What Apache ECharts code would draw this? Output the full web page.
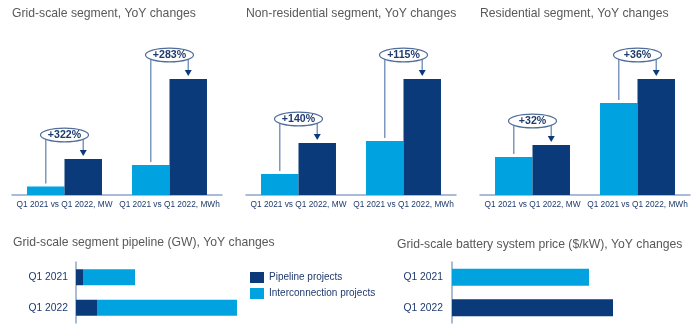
<!DOCTYPE html>
<html><head><meta charset="utf-8">
<script src="https://cdn.jsdelivr.net/npm/echarts@6/dist/echarts.min.js"></script>
<style>html,body{margin:0;padding:0;background:#fff}#c{width:696px;height:326px}</style>
</head><body><div id="c"></div>
<script>
// ---- data ----
const barCategories = ['Q1 2021 vs Q1 2022, MW', 'Q1 2021 vs Q1 2022, MWh'];
// relative bar heights (each panel on its own scale)
const gridQ1_2021 = [8.5, 30];
const gridQ1_2022 = [36, 116];
const gridChange = ['+322%', '+283%'];
const nonresQ1_2021 = [21, 54];
const nonresQ1_2022 = [52, 116];
const nonresChange = ['+140%', '+115%'];
const resQ1_2021 = [38, 92];
const resQ1_2022 = [50, 116];
const resChange = ['+32%', '+36%'];

const quarters = ['Q1 2021', 'Q1 2022'];
const pipelineProjects = [7, 21];
const interconnectionProjects = [52, 140];
const batteryPrice = [137, 161];

const titles = ['Grid-scale segment, YoY changes', 'Non-residential segment, YoY changes', 'Residential segment, YoY changes',
  'Grid-scale segment pipeline (GW), YoY changes', 'Grid-scale battery system price ($/kW), YoY changes'];

// ---- styling ----
const LIGHT = '#00a3e0', DARK = '#0b3a7a', AXIS = '#8ea6c8', LABEL = '#1f3a6e', TITLE = '#595959';
const FONT = '"Liberation Sans", Arial, sans-serif';
const GAP = 0.286;

function makeAnnot(changes) {
  return function (params, api) {
    const idx = api.value(0), lo = api.value(1), hi = api.value(2);
    const base = api.coord([idx, 0]);
    const band = api.size([1, 0])[0];
    const bw = band * (1 - GAP) / 2;
    const lx = base[0] - bw / 2, dx = base[0] + bw / 2;
    const ly = api.coord([idx, lo])[1], dy = api.coord([idx, hi])[1];
    const ey = dy - 24, cx = base[0];
    const ls = { stroke: '#7f98bf', lineWidth: 1.5 };
    return {
      type: 'group', children: [
        { type: 'line', shape: { x1: lx, y1: ly - 3, x2: lx, y2: ey }, style: ls },
        { type: 'line', shape: { x1: dx, y1: ey, x2: dx, y2: dy - 8 }, style: ls },
        { type: 'polygon', shape: { points: [[dx - 3.5, dy - 9], [dx + 3.5, dy - 9], [dx, dy - 3]] }, style: { fill: DARK } },
        { type: 'ellipse', shape: { cx: cx, cy: ey, rx: 24, ry: 6.8 }, style: { fill: '#fff', stroke: '#4f6d99', lineWidth: 1.2 } },
        { type: 'text', style: { x: cx, y: ey + 0.5, text: changes[params.dataIndex], fill: LABEL, font: 'bold 10.6px ' + FONT, align: 'center', verticalAlign: 'middle' } }
      ]
    };
  };
}

const panels = [
  { left: 12, a: gridQ1_2021, b: gridQ1_2022, c: gridChange },
  { left: 246, a: nonresQ1_2021, b: nonresQ1_2022, c: nonresChange },
  { left: 480, a: resQ1_2021, b: resQ1_2022, c: resChange }
];

const grid = [], xAxis = [], yAxis = [], series = [];
panels.forEach((p, i) => {
  grid.push({ left: p.left, top: 65, width: 210, height: 130 });
  xAxis.push({
    type: 'category', gridIndex: i, data: barCategories,
    axisTick: { show: false }, axisLine: { lineStyle: { color: AXIS, width: 1.5 } },
    axisLabel: { interval: 0, fontSize: 8.3, color: LABEL, margin: 5.5, fontFamily: FONT }
  });
  yAxis.push({ type: 'value', gridIndex: i, min: 0, max: 130, show: false });
  series.push({ type: 'bar', name: 'Q1 2021', xAxisIndex: i, yAxisIndex: i, data: p.a, itemStyle: { color: LIGHT }, barGap: '0%', barCategoryGap: (GAP * 100) + '%' });
  series.push({ type: 'bar', name: 'Q1 2022', xAxisIndex: i, yAxisIndex: i, data: p.b, itemStyle: { color: DARK }, barGap: '0%', barCategoryGap: (GAP * 100) + '%' });
  series.push({
    type: 'custom', xAxisIndex: i, yAxisIndex: i, renderItem: makeAnnot(p.c), z: 5,
    data: p.a.map((v, k) => [k, v, p.b[k]])
  });
});

// bottom-left: pipeline
grid.push({ left: 76, top: 262, width: 200, height: 61 });
xAxis.push({ type: 'value', gridIndex: 3, min: 0, max: 200, show: false });
yAxis.push({
  type: 'category', gridIndex: 3, data: quarters, inverse: true,
  axisTick: { show: false }, axisLine: { lineStyle: { color: AXIS, width: 1.5 } },
  axisLabel: { fontSize: 10.3, color: LABEL, margin: 8, fontFamily: FONT }
});
series.push({ type: 'bar', name: 'Pipeline projects', stack: 'p', xAxisIndex: 3, yAxisIndex: 3, data: pipelineProjects, barWidth: 16, itemStyle: { color: DARK } });
series.push({ type: 'bar', name: 'Interconnection projects', stack: 'p', xAxisIndex: 3, yAxisIndex: 3, data: interconnectionProjects, barWidth: 16, itemStyle: { color: LIGHT } });

// bottom-right: battery price
grid.push({ left: 452, top: 262, width: 200, height: 61 });
xAxis.push({ type: 'value', gridIndex: 4, min: 0, max: 200, show: false });
yAxis.push({
  type: 'category', gridIndex: 4, data: quarters, inverse: true,
  axisTick: { show: false }, axisLine: { lineStyle: { color: AXIS, width: 1.5 } },
  axisLabel: { fontSize: 10.3, color: LABEL, margin: 9, fontFamily: FONT }
});
series.push({
  type: 'bar', name: 'Battery price', xAxisIndex: 4, yAxisIndex: 4, barWidth: 17,
  data: batteryPrice.map((v, k) => ({ value: v, itemStyle: { color: k === 0 ? LIGHT : DARK } }))
});

const titlePos = [[12, 8], [246, 8], [480, 8], [13, 237], [397, 239]];
const option = {
  animation: false,
  backgroundColor: '#fff',
  title: titles.map((t, i) => ({
    text: t, left: titlePos[i][0], top: titlePos[i][1], padding: 0,
    textStyle: { fontSize: 12.2, fontWeight: 'normal', color: TITLE, fontFamily: FONT }
  })),
  legend: {
    data: ['Pipeline projects', 'Interconnection projects'], orient: 'vertical', left: 250, top: 272,
    padding: 0, itemWidth: 14, itemHeight: 11, itemGap: 5, icon: 'rect',
    textStyle: { fontSize: 10, color: LABEL, fontFamily: FONT }
  },
  grid, xAxis, yAxis, series
};
const chart = echarts.init(document.getElementById('c'), null, { renderer: 'canvas' });
chart.setOption(option);
</script></body></html>
